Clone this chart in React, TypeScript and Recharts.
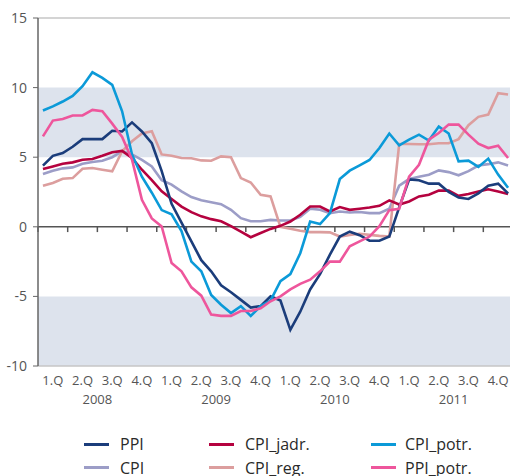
import { LineChart, Line, XAxis, YAxis, ReferenceArea, ReferenceLine } from 'recharts'

const YEARS = ['2008', '2009', '2010', '2011']
const QUARTERS = ['1.Q', '2.Q', '3.Q', '4.Q']
const Y_TICKS = [-10, -5, 0, 5, 10, 15]

// monthly y/y changes, Jan 2008 .. Dec 2011
const PPI = [
  4.4, 5.1, 5.3, 5.75, 6.3, 6.3, 6.3, 6.9, 6.85, 7.5, 6.85, 6.0,
  4.0, 1.65, 0.3, -1.05, -2.4, -3.2, -4.2, -4.7, -5.25, -5.8, -5.7, -5.0,
  -5.3, -7.4, -6.1, -4.5, -3.4, -2.0, -0.7, -0.35, -0.6, -1.0, -1.0, -0.7,
  1.4, 3.4, 3.35, 3.1, 3.1, 2.5, 2.1, 2.0, 2.4, 2.95, 3.1, 2.4,
]
const CPI = [
  3.8, 4.03, 4.2, 4.27, 4.53, 4.65, 4.75, 5.0, 5.43, 5.2, 4.8, 4.34,
  3.35, 3.03, 2.54, 2.14, 1.9, 1.77, 1.63, 1.22, 0.62, 0.4, 0.4, 0.5,
  0.45, 0.45, 0.72, 1.3, 1.22, 0.98, 1.1, 1.03, 1.06, 0.98, 0.98, 1.3,
  2.95, 3.43, 3.6, 3.74, 4.05, 3.93, 3.7, 4.0, 4.4, 4.5, 4.63, 4.4,
]
const CPI_JADR = [
  4.15, 4.34, 4.53, 4.63, 4.82, 4.87, 5.1, 5.35, 5.45, 4.94, 4.1, 3.35,
  2.55, 2.0, 1.45, 1.05, 0.75, 0.55, 0.4, 0.05, -0.35, -0.75, -0.45, -0.15,
  0.07, 0.38, 0.86, 1.46, 1.46, 1.1, 1.42, 1.22, 1.3, 1.39, 1.51, 1.9,
  1.6, 1.82, 2.18, 2.3, 2.6, 2.6, 2.22, 2.35, 2.54, 2.7, 2.54, 2.35,
]
const CPI_REG = [
  2.95, 3.15, 3.45, 3.5, 4.17, 4.22, 4.1, 3.98, 5.43, 6.14, 6.7, 6.86,
  5.2, 5.1, 4.94, 4.92, 4.77, 4.75, 5.06, 5.0, 3.5, 3.18, 2.3, 2.18,
  0.0, -0.14, -0.29, -0.38, -0.38, -0.4, -0.7, -0.58, -0.5, -0.58, -0.65, -0.7,
  5.95, 5.95, 5.93, 5.93, 6.0, 6.0, 6.3, 7.3, 7.9, 8.06, 9.6, 9.5,
]
const CPI_POTR = [
  8.35, 8.65, 9.0, 9.4, 10.1, 11.1, 10.7, 10.2, 8.3, 5.2, 3.6, 2.45,
  1.2, 0.9, -0.3, -2.5, -3.2, -4.9, -5.6, -6.2, -5.7, -6.4, -5.7, -5.3,
  -3.9, -3.4, -1.9, 0.38, 0.2, 0.98, 3.43, 4.03, 4.41, 4.8, 5.66, 6.7,
  5.85, 6.26, 6.62, 6.2, 7.2, 6.7, 4.7, 4.75, 4.3, 4.9, 3.75, 2.8,
]
const PPI_POTR = [
  6.5, 7.63, 7.75, 8.0, 8.0, 8.4, 8.3, 7.41, 6.45, 4.82, 1.94, 0.6,
  0.02, -2.6, -3.2, -4.35, -4.95, -6.3, -6.4, -6.4, -6.05, -6.05, -5.85, -5.35,
  -5.0, -4.5, -4.1, -3.8, -3.2, -2.5, -2.5, -1.4, -1.05, -0.7, 0.05, 1.2,
  1.3, 3.6, 4.46, 6.26, 6.74, 7.34, 7.34, 6.62, 5.97, 5.66, 5.83, 4.94,
]

const SERIES = [
  { key: 'ppi', label: 'PPI', color: '#1b3d7b', values: PPI },
  { key: 'cpi', label: 'CPI', color: '#9c9dc7', values: CPI },
  { key: 'jadr', label: 'CPI_jadr.', color: '#b5023f', values: CPI_JADR },
  { key: 'reg', label: 'CPI_reg.', color: '#dc9e9e', values: CPI_REG },
  { key: 'potr', label: 'CPI_potr.', color: '#0b9ad8', values: CPI_POTR },
  { key: 'ppiPotr', label: 'PPI_potr.', color: '#ee569c', values: PPI_POTR },
]
const DRAW_ORDER = ['cpi', 'reg', 'jadr', 'ppi', 'potr', 'ppiPotr']

const MONTHS = YEARS.flatMap((y) => Array.from({ length: 12 }, (_, m) => `${y}-${m + 1}`))
const data = MONTHS.map((month, i) => {
  const row: Record<string, number | string> = { month, x: i + 0.5 }
  SERIES.forEach((s) => (row[s.key] = s.values[i]))
  return row
})

const N = MONTHS.length
const quarterTicks = Array.from({ length: N / 3 }, (_, k) => k * 3 + 1.5)
const boundaryTicks = Array.from({ length: N / 3 + 1 }, (_, k) => k * 3)
const yearTicks = YEARS.map((_, k) => k * 12 + 6)

const font = '"Open Sans", "DejaVu Sans", sans-serif'
const legendCols = [
  { swatch: 84, text: 120, keys: ['ppi', 'cpi'] },
  { swatch: 209, text: 245, keys: ['jadr', 'reg'] },
  { swatch: 371, text: 405, keys: ['potr', 'ppiPotr'] },
]

export default function App() {
  return (
    <div
      style={{
        position: 'absolute',
        left: 0,
        top: 0,
        width: 510,
        height: 476,
        overflow: 'hidden',
        background: '#fff',
        fontFamily: font,
      }}
    >
      <LineChart
        width={513}
        height={476}
        data={data}
        margin={{ top: 18, right: 0, bottom: 66, left: 0 }}
      >
        <ReferenceArea y1={5} y2={10} fill="#dde3ed" fillOpacity={1} stroke="none" />
        <ReferenceArea y1={-10} y2={-5} fill="#dde3ed" fillOpacity={1} stroke="none" />
        <ReferenceLine y={15} stroke="#c6c6c6" strokeWidth={1.5} />
        <XAxis
          xAxisId="q"
          dataKey="x"
          type="number"
          domain={[0, N]}
          ticks={quarterTicks}
          tickFormatter={(t: number) => QUARTERS[Math.floor(t / 3) % 4]}
          interval={0}
          height={24}
          tickSize={0}
          tickMargin={10}
          axisLine={{ stroke: '#c6c6c6', strokeWidth: 1.5 }}
          tick={{ fill: '#555', fontSize: 13, fontFamily: font }}
        />
        <XAxis
          xAxisId="y"
          dataKey="x"
          type="number"
          domain={[0, N]}
          ticks={yearTicks}
          tickFormatter={(t: number) => YEARS[Math.floor(t / 12)]}
          interval={0}
          height={20}
          tickSize={0}
          tickMargin={5}
          axisLine={false}
          tick={{ fill: '#555', fontSize: 13, fontFamily: font }}
        />
        <YAxis
          domain={[-10, 15]}
          ticks={Y_TICKS}
          interval={0}
          width={38}
          tickSize={5}
          tickMargin={6}
          axisLine={{ stroke: '#666', strokeWidth: 1.5 }}
          tickLine={{ stroke: '#666' }}
          tick={{ fill: '#555', fontSize: 14, fontFamily: font }}
        />
        <ReferenceLine xAxisId="q" y={0} stroke="#555" strokeWidth={1.5} />
        {boundaryTicks.map((t) => (
          <ReferenceLine
            key={t}
            xAxisId="q"
            segment={[
              { x: t, y: 0 },
              { x: t, y: -0.38 },
            ]}
            stroke="#555"
            strokeWidth={1.5}
          />
        ))}
        {DRAW_ORDER.map((k) => {
          const s = SERIES.find((v) => v.key === k)!
          return (
            <Line
              key={s.key}
              xAxisId="q"
              dataKey={s.key}
              name={s.label}
              stroke={s.color}
              strokeWidth={2.6}
              dot={false}
              type="linear"
              isAnimationActive={false}
            />
          )
        })}
      </LineChart>
      {legendCols.map((col) =>
        col.keys.map((k, row) => {
          const s = SERIES.find((v) => v.key === k)!
          const cy = 444 + row * 23.5
          return (
            <div key={k}>
              <div
                style={{
                  position: 'absolute',
                  left: col.swatch,
                  top: cy - 1.5,
                  width: 25,
                  height: 3,
                  background: s.color,
                }}
              />
              <div
                style={{
                  position: 'absolute',
                  left: col.text,
                  top: cy - 11,
                  lineHeight: '22px',
                  fontSize: 16,
                  color: '#2a2a2a',
                  whiteSpace: 'nowrap',
                }}
              >
                {s.label}
              </div>
            </div>
          )
        })
      )}
    </div>
  )
}
